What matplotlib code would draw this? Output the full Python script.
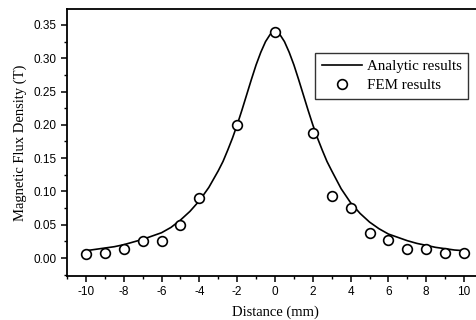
import matplotlib
matplotlib.use("Agg")
import matplotlib.pyplot as plt
from matplotlib.ticker import MultipleLocator, FormatStrFormatter

plt.rcParams['axes.unicode_minus'] = False

# FEM results (circles)
fem_x = [-10, -9, -8, -7, -6, -5, -4, -2, 0, 2, 3, 4, 5, 6, 7, 8, 9, 10]
fem_y = [0.006, 0.007, 0.014, 0.026, 0.026, 0.050, 0.090, 0.199, 0.340, 0.187,
         0.093, 0.075, 0.038, 0.027, 0.013, 0.014, 0.007, 0.007]

# Analytic results (line)
ana_x = [-10, -9.5, -9, -8.5, -8, -7.5, -7, -6.5, -6, -5.5, -5, -4.5, -4, -3.5,
         -3, -2.75, -2.5, -2.25, -2, -1.75, -1.5, -1.25, -1, -0.75, -0.5, -0.25,
         0, 0.25, 0.5, 0.75, 1, 1.25, 1.5, 1.75, 2, 2.25, 2.5, 2.75, 3, 3.5,
         4, 4.5, 5, 5.5, 6, 6.5, 7, 7.5, 8, 8.5, 9, 9.5, 10]
ana_y = [0.011, 0.013, 0.015, 0.017, 0.020, 0.024, 0.028, 0.033, 0.038, 0.046,
         0.057, 0.070, 0.086, 0.106, 0.131, 0.145, 0.162, 0.180, 0.200, 0.222,
         0.245, 0.268, 0.290, 0.309, 0.325, 0.336, 0.340,
         0.336, 0.325, 0.309, 0.290, 0.268, 0.245, 0.222, 0.200, 0.180, 0.162,
         0.145, 0.131, 0.104, 0.083, 0.067, 0.054, 0.044, 0.036, 0.031, 0.026,
         0.022, 0.019, 0.016, 0.014, 0.012, 0.011]

fig = plt.figure(figsize=(4.77, 3.2), dpi=100)
ax = fig.add_axes([0.1405, 0.1375, 0.872, 0.8345])

ax.plot(ana_x, ana_y, color='black', lw=1.2, label='Analytic results')
ax.plot(fem_x, fem_y, linestyle='none', marker='o', ms=7, mfc='white',
        mec='black', mew=1.2, label='FEM results')

ax.set_xlim(-11, 11)
ax.set_ylim(-0.027, 0.374)
ax.xaxis.set_major_locator(MultipleLocator(2))
ax.xaxis.set_minor_locator(MultipleLocator(1))
ax.yaxis.set_major_locator(MultipleLocator(0.05))
ax.yaxis.set_minor_locator(MultipleLocator(0.025))
ax.yaxis.set_major_formatter(FormatStrFormatter('%.2f'))

ax.tick_params(which='major', direction='out', length=4, width=1.1,
               labelsize=8.5, top=False, right=False)
ax.tick_params(which='minor', direction='out', length=2.5, width=1.0,
               top=False, right=False)
for lab in ax.get_xticklabels() + ax.get_yticklabels():
    lab.set_fontfamily('Liberation Sans')

for s in ax.spines.values():
    s.set_linewidth(1.3)

ax.set_xlabel('Distance (mm)', fontfamily='Liberation Serif', fontsize=10.5,
              labelpad=5)
ax.set_ylabel('Magnetic Flux Density (T)', fontfamily='Liberation Serif',
              fontsize=10.5, labelpad=5)

leg = ax.legend(loc='upper left', bbox_to_anchor=(0.596, 0.835),
                borderaxespad=0,
                prop={'family': 'Liberation Serif', 'size': 10.8},
                frameon=True, fancybox=False, edgecolor='black',
                handlelength=2.7, borderpad=0.45, labelspacing=0.35,
                handletextpad=0.3)
leg.get_frame().set_linewidth(1.0)

fig.savefig('out.png', dpi=100)
